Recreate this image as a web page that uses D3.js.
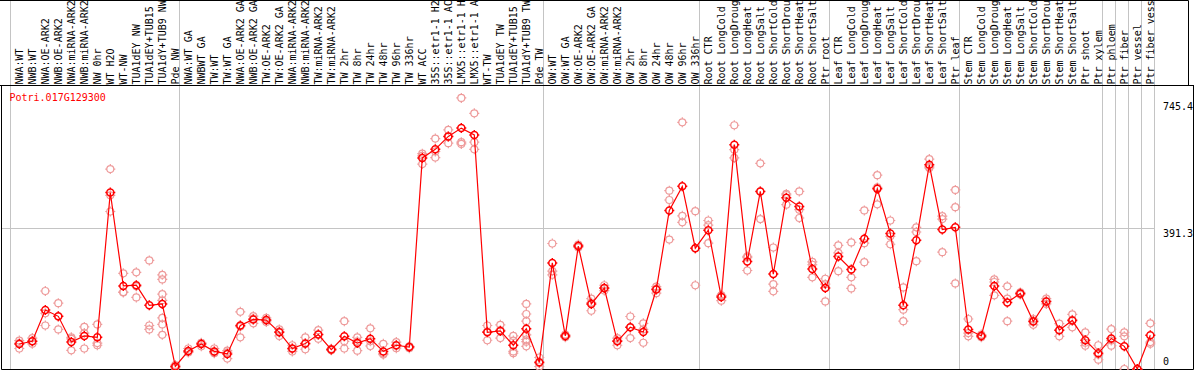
<!DOCTYPE html>
<html>
<head>
<meta charset="utf-8">
<script src="https://cdn.jsdelivr.net/npm/d3@7"></script>
<style>
    body { margin: 0; background: #fff; }
    svg { display: block; }
    text { font-family: "DejaVu Sans Mono", monospace; font-size: 10px; }
</style>
</head>
<body>
<svg id="chart"></svg>
<script>
// Sample names (column headers) as far as the header shows them
const samples = [
    "NWA:WT", "NWB:WT", "NWA:OE-ARK2", "NWB:OE-ARK2", "NWA:miRNA-ARK2", "NWB:miRNA-ARK2",
    "NW 0hr", "WT H2O", "WT-NW", "TUA1dEY NW", "TUA1dEY+TUB15", "TUA1dY+TUB9 NW", "Pde NW",
    "NWA:WT GA", "NWBWT GA", "TW:WT", "TW:WT GA", "NWA:OE-ARK2 GA", "NWB:OE-ARK2 GA",
    "TW:OE-ARK2", "TW:OE-ARK2 GA", "NWA:miRNA-ARK2", "NWB:miRNA-ARK2", "TW:miRNA-ARK2",
    "TW:miRNA-ARK2", "TW 2hr", "TW 8hr", "TW 24hr", "TW 48hr", "TW 96hr", "TW 336hr",
    "WT ACC", "35S::etr1-1 H2", "35S::etr1-1 AC", "LMX5::etr1-1 H", "LMX5::etr1-1 A",
    "WT-TW", "TUA1dEY TW", "TUA1dEY+TUB15", "TUA1dY+TUB9 TW", "Pde TW",
    "OW:WT", "OW:WT GA", "OW:OE-ARK2", "OW:OE-ARK2 GA", "OW:miRNA-ARK2", "OW:miRNA-ARK2",
    "OW 2hr", "OW 8hr", "OW 24hr", "OW 48hr", "OW 96hr", "OW 336hr",
    "Root CTR", "Root LongCold", "Root LongDroug", "Root LongHeat", "Root LongSalt",
    "Root ShortCold", "Root ShortDrou", "Root ShortHeat", "Root ShortSalt", "Ptr root",
    "Leaf CTR", "Leaf LongCold", "Leaf LongDroug", "Leaf LongHeat", "Leaf LongSalt",
    "Leaf ShortCold", "Leaf ShortDrou", "Leaf ShortHeat", "Leaf ShortSalt", "Ptr leaf",
    "Stem CTR", "Stem LongCold", "Stem LongDroug", "Stem LongHeat", "Stem LongSalt",
    "Stem ShortCold", "Stem ShortDrou", "Stem ShortHeat", "Stem ShortSalt", "Ptr shoot",
    "Ptr xylem", "Ptr phloem", "Ptr fiber", "Ptr vessel", "Ptr fiber vess"
];

// Index of the first sample of each group (a gray separator is drawn before it)
const groupStarts = [0, 13, 41, 53, 63, 73, 84, 85, 86, 87, 88];

// Mean expression per sample
const means = [
    69.5, 77, 164, 146.5, 75, 92, 88, 491, 231, 233, 177, 181, 7,
    50, 69.5, 49, 42, 121, 138, 136, 102, 57, 71, 96, 54, 91, 72, 84, 49, 66, 61,
    587, 611, 647, 670, 651, 102, 106, 66, 112, 18.5,
    295, 92, 342, 181, 225, 77, 116, 103, 221, 441, 508, 336,
    386, 200, 624, 299, 494, 264, 476, 452, 278, 225,
    313, 277, 362, 501, 377, 177, 358, 568, 388, 394,
    110, 92, 231, 185, 210, 132, 188, 108, 135, 80, 44, 85, 63, 0, 94
];

// Replicate values per sample
const replicates = [
    [79, 57, 72], [86, 70, 77], [217, 155, 121], [183, 110, 146], [88, 52, 84], [117, 57, 100],
    [124, 66, 72], [556, 483, 438], [266, 213, 214], [269, 199, 230], [302, 121, 110],
    [262, 249, 208, 191, 142, 124, 95], [3, 7, 11],
    [57, 47, 46], [72, 63, 73], [57, 44, 46], [51, 29, 46], [159, 88, 118], [147, 127, 140],
    [142, 131, 135], [110, 92, 104], [66, 49, 56], [88, 55, 70], [108, 84, 96], [56, 52, 54],
    [133, 77, 57], [88, 51, 77], [113, 64, 77], [70, 40, 43], [75, 58, 65], [63, 58, 62],
    [599, 570, 593], [641, 588, 605], [665, 628, 647], [754, 631, 626], [711, 631, 611],
    [121, 80, 104], [123, 86, 108], [92, 49, 44, 79], [181, 153, 133, 95, 82, 63, 76], [32, 7, 16],
    [349, 272, 262], [96, 88, 92], [346, 338, 342], [196, 162, 185], [233, 218, 224], [86, 66, 79],
    [146, 86, 116], [127, 73, 110], [229, 211, 223], [496, 470, 360], [686, 426, 408], [439, 233, 336],
    [413, 400, 350], [205, 190, 204], [678, 610, 587], [313, 274, 310], [572, 417, 494],
    [338, 236, 216], [487, 457, 484], [494, 443, 420], [298, 290, 255], [251, 236, 188],
    [344, 323, 272], [352, 255, 224], [441, 350, 297], [539, 458, 505], [413, 369, 347],
    [227, 165, 133], [394, 381, 300], [584, 559, 562], [425, 417, 325], [498, 450, 238],
    [139, 91, 100], [96, 88, 92], [249, 242, 205], [230, 196, 133], [213, 207, 210],
    [139, 123, 134], [196, 181, 188], [126, 91, 108], [152, 116, 137], [102, 65, 73],
    [66, 26, 40], [111, 65, 79], [102, 91, 0], [0, 0, 0], [127, 75, 70]
];

// Y axis labels
const yTicks = [0, 391.3, 745.4];
const geneId = "Potri.017G129300";

const width = 1194;
const height = 370;

const svg = d3.select("#chart")
    .attr("width", width)
    .attr("height", height);

// Scales
const xScale = d3.scalePoint()
    .domain(d3.range(samples.length))
    .range([19.3, 19.3 + 13 * (samples.length - 1)]);
const step = xScale.step();
const sepX = k => Math.floor(xScale(0) - 8.6 + step * k) + 0.5;

const yScale = d3.scaleLinear()
    .domain([0, 745.4])
    .range([369, 101]);

const headerBottom = 85.5;

// Gray group separators (through header and plot)
svg.append("g")
    .selectAll("line")
    .data(groupStarts)
    .join("line")
    .attr("x1", d => sepX(d))
    .attr("x2", d => sepX(d))
    .attr("y1", 0)
    .attr("y2", 369)
    .attr("stroke", "#c4c4c4")
    .attr("stroke-width", 1);

// Horizontal grid line at the middle tick
svg.append("line")
    .attr("x1", 1.5)
    .attr("x2", sepX(88))
    .attr("y1", Math.round(yScale(391.3)) + 0.5)
    .attr("y2", Math.round(yScale(391.3)) + 0.5)
    .attr("stroke", "#c4c4c4");

// Header borders
svg.append("path")
    .attr("d", `M0,0.5 H1188.5 V${headerBottom} M0,${headerBottom} H1194`)
    .attr("fill", "none")
    .attr("stroke", "#000");

// Plot box
svg.append("path")
    .attr("d", `M1.5,${headerBottom} V369.5 H1193.5 V${headerBottom}`)
    .attr("fill", "none")
    .attr("stroke", "#000");

// Column labels, rotated
svg.append("g")
    .selectAll("text")
    .data(samples)
    .join("text")
    .attr("transform", (d, i) => `translate(${xScale(i) + 3.8}, 84.5) rotate(-90)`)
    .attr("fill", "#000")
    .attr("font-size", "9.9px")
    .text(d => d);

// Gene id
svg.append("text")
    .attr("x", 9.5)
    .attr("y", 100.5)
    .attr("fill", "#ff0000")
    .text(geneId);

// Y axis labels on the right
svg.append("g")
    .selectAll("text")
    .data(yTicks)
    .join("text")
    .attr("x", 1163)
    .attr("y", d => Math.min(yScale(d) + 8.5, 365))
    .attr("fill", "#000")
    .text(d => d);

// Marker: open circle with small ticks
const r = 3.5;
const marker = `M${r},0 A${r},${r} 0 1,1 ${-r},0 A${r},${r} 0 1,1 ${r},0 ` +
    `M0,${-r - 1.5} V${-r + 0.5} M0,${r - 0.5} V${r + 1.5} ` +
    `M${-r - 1.5},0 H${-r + 0.5} M${r - 0.5},0 H${r + 1.5}`;

// Replicates
const repData = replicates.flatMap((vals, i) => vals.map(v => ({ i, v })));
svg.append("g")
    .selectAll("path")
    .data(repData)
    .join("path")
    .attr("d", marker)
    .attr("transform", d => `translate(${xScale(d.i)}, ${yScale(d.v)})`)
    .attr("fill", "none")
    .attr("stroke", "#ee9a9a")
    .attr("stroke-width", 1.2);

// Mean line
const line = d3.line()
    .x((d, i) => xScale(i))
    .y(d => yScale(d));

svg.append("path")
    .datum(means)
    .attr("d", line)
    .attr("fill", "none")
    .attr("stroke", "#ff0000")
    .attr("stroke-width", 1.2);

// Mean markers
svg.append("g")
    .selectAll("path")
    .data(means)
    .join("path")
    .attr("d", marker)
    .attr("transform", (d, i) => `translate(${xScale(i)}, ${yScale(d)})`)
    .attr("fill", "none")
    .attr("stroke", "#ff0000")
    .attr("stroke-width", 1.5);
</script>
</body>
</html>
